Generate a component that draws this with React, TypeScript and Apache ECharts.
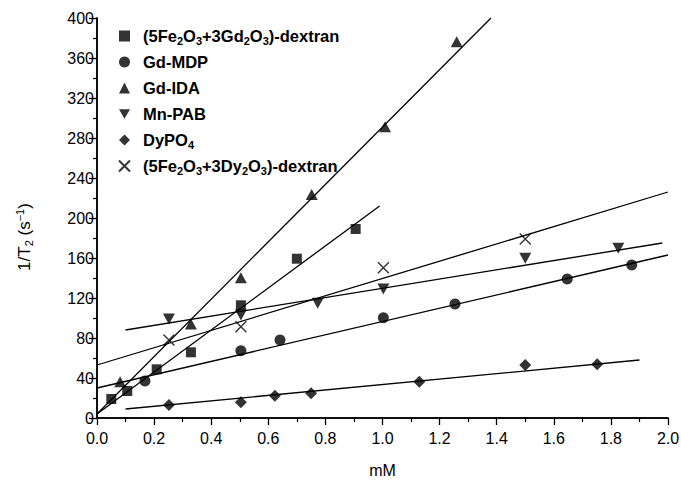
import React, { useEffect, useRef } from "react";
import * as echarts from "echarts";

// ---- data ----
const seriesNames = [
  "(5Fe2O3+3Gd2O3)-dextran",
  "Gd-MDP",
  "Gd-IDA",
  "Mn-PAB",
  "DyPO4",
  "(5Fe2O3+3Dy2O3)-dextran",
];

const feGdDextran: [number, number][] = [
  [0.05, 19], [0.106, 27], [0.209, 48.7], [0.329, 65.7], [0.504, 112.7], [0.70, 159.3], [0.906, 189],
];
const gdMDP: [number, number][] = [
  [0.168, 37], [0.504, 67.3], [0.641, 78], [1.003, 100.3], [1.254, 114], [1.647, 139], [1.873, 153],
];
const gdIDA: [number, number][] = [
  [0.081, 36.3], [0.329, 94], [0.504, 140.3], [0.752, 223.5], [1.009, 291.3], [1.26, 376.3],
];
const mnPAB: [number, number][] = [
  [0.252, 99], [0.504, 103], [0.773, 114.7], [1.003, 129], [1.5, 159.7], [1.826, 169.7],
];
const dyPO4: [number, number][] = [
  [0.252, 13], [0.504, 15.7], [0.623, 22.3], [0.75, 24.7], [1.129, 36.3], [1.5, 53], [1.752, 53.7],
];
const feDyDextran: [number, number][] = [
  [0.252, 78], [0.504, 91.3], [1.003, 150.3], [1.5, 179],
];

// linear fit lines (end points)
const fitFeGd: [number, number][] = [[0, 4], [0.99, 212]];
const fitGdMDP: [number, number][] = [[0, 30], [2.0, 163]];
const fitGdIDA: [number, number][] = [[0, 4], [1.38, 400]];
const fitMnPAB: [number, number][] = [[0.1, 88], [1.98, 175]];
const fitDyPO4: [number, number][] = [[0.1, 9], [1.9, 58]];
const fitFeDy: [number, number][] = [[0, 53], [2.0, 226]];

const xTicks = { min: 0, max: 2, interval: 0.2 };
const yTicks = { min: 0, max: 400, interval: 40 };

const legendRich: Record<string, string> = {
  "(5Fe2O3+3Gd2O3)-dextran":
    "{n|(5Fe}{s|2}{n|O}{s|3}{n|+3Gd}{s|2}{n|O}{s|3}{n|)-dextran}",
  "Gd-MDP": "{n|Gd-MDP}",
  "Gd-IDA": "{n|Gd-IDA}",
  "Mn-PAB": "{n|Mn-PAB}",
  DyPO4: "{n|DyPO}{s|4}",
  "(5Fe2O3+3Dy2O3)-dextran":
    "{n|(5Fe}{s|2}{n|O}{s|3}{n|+3Dy}{s|2}{n|O}{s|3}{n|)-dextran}",
};

const FONT = "Liberation Sans, Arial, sans-serif";

export default function App() {
  const ref = useRef<HTMLDivElement>(null);
  useEffect(() => {
    if (!ref.current) return;
    const chart = echarts.init(ref.current, undefined, { renderer: "svg" });

    const scatter = (
      name: string,
      data: [number, number][],
      symbol: string,
      size: number | number[],
      extra: any = {}
    ) => ({
      name,
      type: "scatter",
      data,
      symbol,
      symbolSize: size,
      itemStyle: { color: "#000", ...extra },
      z: 5,
    });
    const fit = (data: [number, number][]) => ({
      type: "line",
      data,
      symbol: "none",
      silent: true,
      lineStyle: { color: "#000", width: 1.3 },
      z: 3,
    });

    const axisCommon = {
      axisLine: { show: true, onZero: false, lineStyle: { color: "#000", width: 1.5 } },
      axisLabel: { color: "#000", fontSize: 16, fontFamily: FONT },
      splitLine: { show: false },
    };

    chart.setOption({
      animation: false,
      backgroundColor: "#fff",
      textStyle: { fontFamily: FONT },
      grid: {
        left: 97,
        right: 13,
        top: 18,
        bottom: 62,
        containLabel: false,
        outerBoundsMode: "none",
      },
      xAxis: [
        {
          type: "value",
          ...xTicks,
          ...axisCommon,
          axisTick: { show: true, length: 7, inside: false, lineStyle: { color: "#000", width: 1.3 } },
          minorTick: { show: true, splitNumber: 2, length: 4, lineStyle: { color: "#000", width: 1.2 } },
          axisLabel: { ...axisCommon.axisLabel, margin: 12, formatter: (v: number) => v.toFixed(1) },
          name: "mM",
          nameLocation: "middle",
          nameGap: 44,
          nameTextStyle: { color: "#000", fontSize: 16, fontFamily: FONT, lineHeight: 16 },
        },
        {
          type: "value",
          position: "top",
          ...xTicks,
          axisLine: { show: true, lineStyle: { color: "#000", width: 1.5 } },
          axisTick: { show: false },
          axisLabel: { show: false },
          splitLine: { show: false },
        },
      ],
      yAxis: [
        {
          type: "value",
          ...yTicks,
          ...axisCommon,
          axisTick: { show: true, length: 8, inside: false, lineStyle: { color: "#000", width: 1.3 } },
          minorTick: { show: true, splitNumber: 2, length: 4, lineStyle: { color: "#000", width: 1.2 } },
          axisLabel: { ...axisCommon.axisLabel, margin: 3 },
        },
        {
          type: "value",
          position: "right",
          ...yTicks,
          axisLine: { show: true, lineStyle: { color: "#000", width: 1.5 } },
          axisTick: { show: false },
          axisLabel: { show: false },
          splitLine: { show: false },
        },
      ],
      legend: {
        orient: "vertical",
        left: 113,
        top: 21,
        itemWidth: 11,
        itemHeight: 11,
        itemGap: 6,
        data: seriesNames,
        formatter: (name: string) => legendRich[name] || name,
        textStyle: {
          color: "#000",
          fontFamily: FONT,
          fontSize: 16.5,
          fontWeight: "bold",
          padding: [0, 0, 0, 8],
          lineHeight: 20,
          rich: {
            n: { fontSize: 16.5, fontWeight: "bold", fontFamily: FONT, color: "#000", lineHeight: 20 },
            s: { fontSize: 11, fontWeight: "bold", fontFamily: FONT, color: "#000", padding: [9, 0, 0, 0] },
          },
        },
      },
      graphic: [
        {
          type: "text",
          x: 24,
          y: 237,
          rotation: Math.PI / 2,
          style: {
            text: "{a|1/T}{s|2}{a| (s}{p|−1}{a|)}",
            align: "center",
            verticalAlign: "middle",
            fill: "#000",
            rich: {
              a: { fontSize: 17, fontFamily: FONT, fill: "#000" },
              s: { fontSize: 11, fontFamily: FONT, fill: "#000", padding: [9, 0, 0, 0] },
              p: { fontSize: 11, fontFamily: FONT, fill: "#000", padding: [0, 0, 9, 0] },
            },
          },
        },
      ],
      series: [
        scatter(seriesNames[0], feGdDextran, "rect", 10),
        scatter(seriesNames[1], gdMDP, "circle", 11),
        scatter(seriesNames[2], gdIDA, "triangle", [12, 11]),
        scatter(seriesNames[3], mnPAB, "path://M0,0L10,0L5,8.7Z", [12, 11]),
        scatter(seriesNames[4], dyPO4, "diamond", [12, 12]),
        scatter(seriesNames[5], feDyDextran, "path://M0,0L10,10M10,0L0,10", 11, {
          color: "transparent",
          borderColor: "#000",
          borderWidth: 1.4,
        }),
        fit(fitFeGd),
        fit(fitGdMDP),
        fit(fitGdIDA),
        fit(fitMnPAB),
        fit(fitDyPO4),
        fit(fitFeDy),
      ],
    });
    return () => chart.dispose();
  }, []);
  return (
    <div
      ref={ref}
      style={{ position: "fixed", left: 0, top: 0, width: 681, height: 480, background: "#fff" }}
    />
  );
}
